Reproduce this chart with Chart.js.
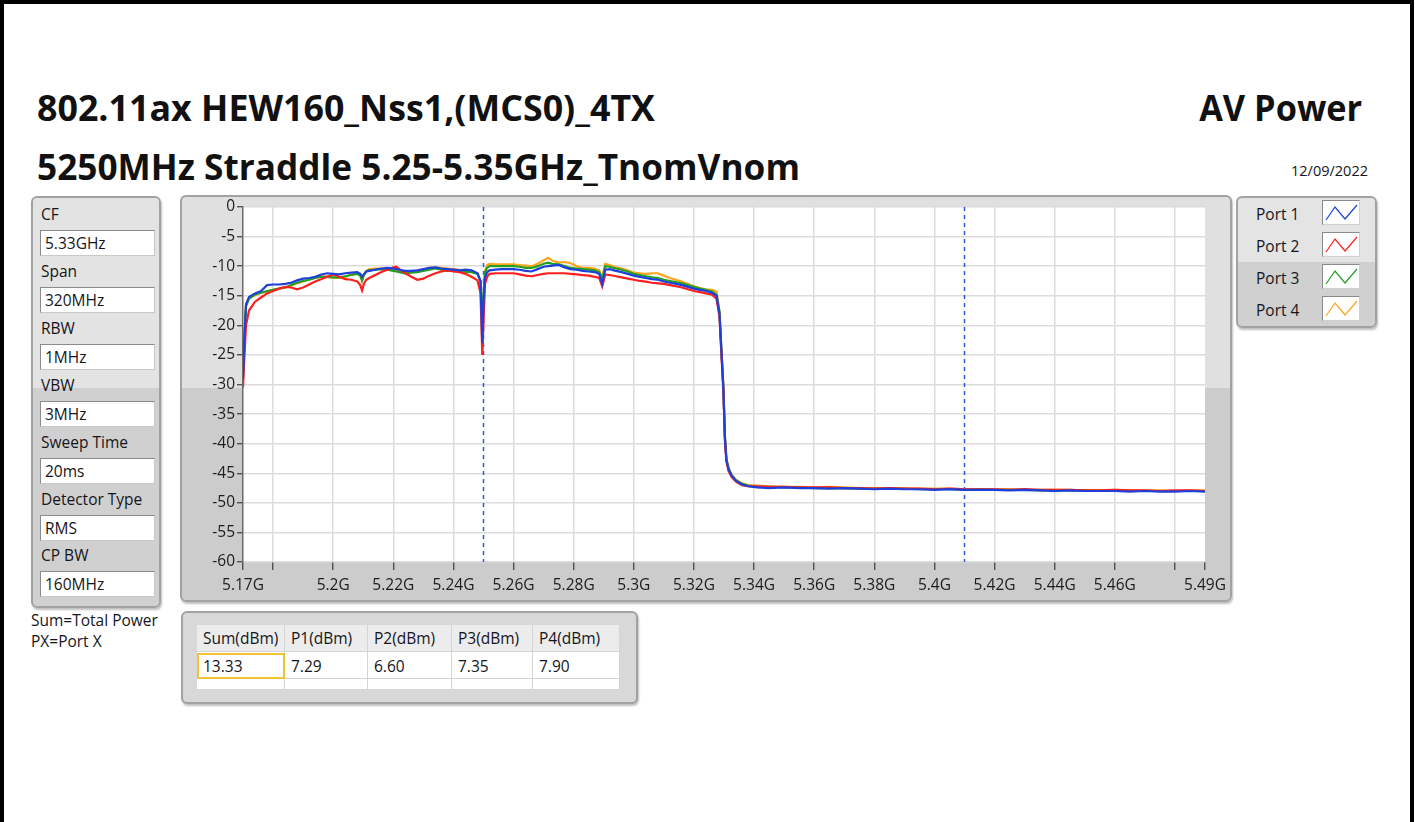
<!DOCTYPE html>
<html>
<head>
<meta charset="utf-8">
<script src="https://cdn.jsdelivr.net/npm/chart.js@4.4.1/dist/chart.umd.min.js"></script>
<style>
  body { margin: 0; background: #fff; font-family: "Open Sans", sans-serif; color: #15151c; }
  .abs { position: absolute; white-space: nowrap; }
  #frame { position: absolute; left: 0; top: 0; width: 1414px; height: 840px; border: 4px solid #000; box-sizing: border-box; }
  .title { font-weight: 700; font-size: 35px; line-height: 35px; color: #111; transform-origin: left top; }
  .small { font-size: 15.5px; line-height: 16px; }
  .panel { position: absolute; box-sizing: border-box; border: 2px solid #a2a2a2; border-radius: 6px;
           box-shadow: 1px 2px 2px rgba(0,0,0,0.25); }
  .field { position: absolute; left: 40px; width: 115px; height: 26px; box-sizing: border-box; background: #fff;
           border: 1px solid #8a8a8a; border-right-color: #c8c8c8; border-bottom-color: #c8c8c8;
           font-size: 15.5px; line-height: 24px; padding-left: 4px; }
  .swatch { position: absolute; left: 1322px; width: 38px; height: 25px; box-sizing: border-box; background: #fff;
            border: 1px solid #8a8a8a; border-right-color: #d0d0d0; border-bottom-color: #d0d0d0; }
  #tbl { position: absolute; left: 197px; top: 625px; width: 423px; height: 64px; background: #fff; overflow: hidden; }
  .cell { position: absolute; box-sizing: border-box; font-size: 15.5px; line-height: 16px; padding-left: 6px;
          border-right: 1px solid #d4d4d4; border-bottom: 1px solid #d4d4d4; }
  .hdr { background: #ececec; height: 27px; top: 0; padding-top: 5px; }
  .row { background: #fff; height: 27px; top: 27px; padding-top: 6px; }
  .row2 { background: #fff; height: 12px; top: 54px; }
</style>
</head>
<body>
<div id="frame"></div>

<div class="abs title" id="t1" style="left:37px; top:90px;">802.11ax HEW160_Nss1,(MCS0)_4TX</div>
<div class="abs title" id="t2" style="left:37px; top:149px;">5250MHz Straddle 5.25-5.35GHz_TnomVnom</div>
<div class="abs title" id="t3" style="right:53px; top:90px; transform-origin:right top;">AV Power</div>
<div class="abs" style="right:47px; top:163px; font-size:14.5px; line-height:16px;">12/09/2022</div>

<!-- settings panel -->
<div class="panel" style="left:31px; top:196px; width:130px; height:412px;
     background: linear-gradient(to bottom, #e3e3e3 0, #e3e3e3 190px, #d0d0d0 190px);"></div>
<div id="settings"></div>

<div class="abs small" style="left:31px; top:612px;">Sum=Total Power</div>
<div class="abs small" style="left:31px; top:633px;">PX=Port X</div>

<!-- chart frame -->
<div class="panel" style="left:180px; top:195px; width:1052px; height:407px;
     background: linear-gradient(to bottom, #e0e0e0 0, #e0e0e0 191px, #cccccc 191px);"></div>
<div style="position:absolute; left:180px; top:195px; width:1052px; height:407px;">
  <canvas id="spectrumChart"></canvas>
</div>

<!-- legend -->
<div class="panel" style="left:1236px; top:196px; width:141px; height:132px;
     background: linear-gradient(to bottom, #e4e4e4 0, #e4e4e4 64px, #d0d0d0 64px);"></div>
<div id="legend"></div>

<!-- power table -->
<div class="panel" style="left:181px; top:611px; width:457px; height:93px; background:#d8d8d8;"></div>
<div id="tbl"></div>

<script>
// ---- chart data ----
const freqMHz = [
  5170, 5170.5, 5171, 5172, 5174, 5176, 5178, 5180, 5182, 5184,
  5186, 5188, 5190, 5192, 5194, 5196, 5198, 5200, 5202, 5204,
  5206, 5208, 5209, 5209.6, 5210.2, 5211, 5212, 5214, 5216, 5218,
  5220, 5221, 5222, 5224, 5226, 5228, 5230, 5232, 5234, 5236,
  5238, 5240, 5242, 5244, 5246, 5248, 5249, 5249.6, 5250, 5250.5,
  5251.2, 5252, 5254, 5256, 5258, 5260, 5262, 5264, 5266, 5268,
  5270, 5271.5, 5273, 5275, 5277, 5279, 5281, 5283, 5285, 5287,
  5288.5, 5289.5, 5290.5, 5292, 5294, 5296, 5298, 5300, 5302, 5304,
  5306, 5308, 5310, 5312, 5314, 5316, 5318, 5320, 5322, 5324,
  5326, 5327.5, 5328.5, 5329.2, 5329.8, 5330.3, 5330.8, 5331.5, 5332.5, 5334,
  5336, 5338,
  5341, 5345, 5350, 5355, 5360, 5365, 5370, 5375, 5380, 5385,
  5390, 5395, 5400, 5405, 5410, 5415, 5420, 5425, 5430, 5435,
  5440, 5445, 5450, 5455, 5460, 5465, 5470, 5475, 5480, 5485,
  5490
];

const port1 = [
  -29, -22, -16.5, -15.2, -14.6, -14.2, -13.2, -13.1, -13.1, -13.0,
  -12.8, -12.4, -12.1, -12.0, -11.8, -11.4, -11.2, -11.3, -11.4, -11.2,
  -11.1, -11.0, -11.3, -11.8, -11.4, -10.9, -10.8, -10.6, -10.4, -10.3,
  -10.4, -10.5, -10.6, -10.8, -10.8, -10.7, -10.5, -10.3, -10.2, -10.4,
  -10.5, -10.6, -10.7, -10.6, -10.7, -11.2, -12.5, -23, -16, -12,
  -11.0, -10.7, -10.6, -10.5, -10.5, -10.5, -10.6, -10.8, -10.9, -10.5,
  -10.1, -10.0, -9.9, -9.8, -10.2, -10.5, -10.6, -10.8, -10.9, -11.0,
  -11.3, -13.0, -10.6, -10.5, -10.8, -11.0, -11.3, -11.6, -11.8, -12.0,
  -12.2, -12.3, -12.6, -12.8, -13.0, -13.2, -13.5, -13.8, -14.0, -14.2,
  -14.5, -15.0, -18, -25, -31, -39, -42.8, -44.3, -45.4, -46.3,
  -46.9, -47.2,
  -47.4, -47.5, -47.4, -47.5, -47.5, -47.6, -47.5, -47.6, -47.7, -47.6,
  -47.7, -47.7, -47.8, -47.7, -47.8, -47.8, -47.8, -47.9, -47.8, -47.9,
  -48.0, -47.9, -48.0, -48.0, -48.0, -48.1, -48.0, -48.1, -48.1, -48.0,
  -48.1
];

const port2 = [
  -30.5, -25, -20, -17.5, -16.0, -15.3, -14.6, -14.2, -13.8, -13.5,
  -13.6, -13.9, -13.6, -13.1, -12.6, -12.2, -11.8, -11.4, -11.8, -12.2,
  -12.3, -12.6, -13.2, -14.1, -13.0, -12.3, -12.0, -11.5, -11.0, -10.6,
  -10.2, -10.1, -10.5, -11.2, -11.8, -12.3, -12.1, -11.6, -11.2, -10.9,
  -10.7, -10.9, -11.0, -11.3, -11.8, -12.4, -14.5, -25, -19.5, -13,
  -11.8, -11.3, -11.2, -11.2, -11.2, -11.2, -11.4, -11.6, -11.7, -11.5,
  -11.3, -11.2, -11.2, -11.2, -11.2, -11.3, -11.4, -11.5, -11.6, -11.8,
  -12.0, -13.4, -11.4, -11.5, -11.7, -11.9, -12.1, -12.3, -12.5, -12.6,
  -12.8, -12.9, -13.0, -13.2, -13.4, -13.6, -13.9, -14.2, -14.4, -14.6,
  -14.8, -15.5, -18.5, -25.5, -31, -39.5, -43, -44.6, -45.6, -46.4,
  -47.0, -47.2,
  -47.2, -47.3, -47.3, -47.4, -47.4, -47.4, -47.5, -47.5, -47.6, -47.5,
  -47.6, -47.6, -47.7, -47.6, -47.7, -47.7, -47.7, -47.8, -47.7, -47.8,
  -47.8, -47.8, -47.9, -47.9, -47.8, -47.9, -47.9, -48.0, -47.9, -47.9,
  -48.0
];

const port3 = [
  -28, -21, -16.8, -15.5, -14.8, -14.5, -14.2, -14.0, -13.8, -13.6,
  -13.2, -12.8, -12.5, -12.3, -12.0, -11.8, -11.8, -11.9, -11.9, -11.7,
  -11.5, -11.3, -11.6, -12.4, -11.5, -10.9, -10.7, -10.6, -10.5, -10.6,
  -10.8, -10.9, -11.0, -11.2, -11.1, -11.0, -10.8, -10.6, -10.4, -10.6,
  -10.8, -10.8, -10.9, -11.0, -11.0, -11.3, -12.5, -19, -15, -11,
  -10.3, -10.0, -10.0, -10.0, -10.0, -10.0, -10.1, -10.3, -10.3, -10.0,
  -9.6, -9.4, -9.6, -9.7, -10.0, -10.3, -10.4, -10.5, -10.6, -10.7,
  -11.0, -12.2, -10.0, -10.1, -10.4, -10.6, -10.9, -11.3, -11.5, -11.7,
  -11.9, -12.0, -12.3, -12.5, -12.7, -12.9, -13.2, -13.5, -13.8, -14.0,
  -14.3, -14.8, -17.8, -24.8, -30.5, -38.8, -42.6, -44.2, -45.3, -46.2,
  -46.8, -47.1,
  -47.3, -47.3, -47.4, -47.4, -47.5, -47.5, -47.5, -47.6, -47.6, -47.6,
  -47.6, -47.7, -47.7, -47.7, -47.8, -47.7, -47.8, -47.8, -47.8, -47.9,
  -47.9, -47.9, -47.9, -48.0, -47.9, -48.0, -48.0, -48.0, -48.0, -48.0,
  -48.0
];

const port4 = [
  -27.5, -21, -16.5, -15.4, -14.9, -14.5, -14.3, -14.0, -13.8, -13.6,
  -13.3, -12.9, -12.6, -12.2, -12.0, -11.7, -11.8, -12.0, -12.0, -11.8,
  -11.4, -11.2, -11.6, -12.5, -11.4, -10.8, -10.5, -10.4, -10.4, -10.5,
  -10.7, -10.8, -10.9, -11.0, -10.9, -10.8, -10.6, -10.3, -10.2, -10.3,
  -10.4, -10.5, -10.6, -10.8, -10.9, -11.2, -12.6, -19.5, -15.5, -10.8,
  -9.8, -9.6, -9.7, -9.7, -9.7, -9.7, -9.8, -9.9, -10.0, -9.6,
  -9.0, -8.6, -9.1, -9.4, -9.3, -9.5, -10.0, -10.3, -10.3, -10.4,
  -10.7, -12.0, -9.6, -9.8, -10.2, -10.4, -10.7, -11.1, -11.2, -11.3,
  -11.2, -11.2, -11.6, -12.0, -12.3, -12.6, -13.0, -13.4, -13.7, -13.9,
  -14.0, -14.3, -17.5, -24.5, -30.2, -38.5, -42.5, -44.0, -45.2, -46.1,
  -46.7, -47.0,
  -47.1, -47.2, -47.3, -47.3, -47.4, -47.3, -47.4, -47.5, -47.5, -47.5,
  -47.6, -47.6, -47.6, -47.6, -47.7, -47.7, -47.7, -47.7, -47.8, -47.8,
  -47.8, -47.8, -47.9, -47.9, -47.8, -47.9, -47.9, -47.9, -48.0, -47.9,
  -47.9
];

const portNames = ['Port 1', 'Port 2', 'Port 3', 'Port 4'];
const portColors = ['#1d40dc', '#ff1f1f', '#21a021', '#ffa41f'];

// channel power bandwidth edges (CF 5.33G +/- 80 MHz)
const cpEdgesMHz = [5250, 5410];

const xTickValues = [5170, 5180, 5200, 5220, 5240, 5260, 5280, 5300, 5320, 5340,
                     5360, 5380, 5400, 5420, 5440, 5460, 5480, 5490];
const xUnlabeled = [5180, 5480];
const yMin = -60, yMax = 0, yStep = 5;

const settingLabels = ['CF', 'Span', 'RBW', 'VBW', 'Sweep Time', 'Detector Type', 'CP BW'];
const settingValues = ['5.33GHz', '320MHz', '1MHz', '3MHz', '20ms', 'RMS', '160MHz'];

const tableHeaders = ['Sum(dBm)', 'P1(dBm)', 'P2(dBm)', 'P3(dBm)', 'P4(dBm)'];
const tableValues = ['13.33', '7.29', '6.60', '7.35', '7.90'];

// ---- side panels ----
const settings = document.getElementById('settings');
settingLabels.forEach((lab, i) => {
    const top = 206 + i * 56.9;
    settings.insertAdjacentHTML('beforeend',
        `<div class="abs small" style="left:41px; top:${top}px;">${lab}</div>` +
        `<div class="field" style="top:${top + 24}px;">${settingValues[i]}</div>`);
});

const legend = document.getElementById('legend');
portNames.forEach((name, i) => {
    const top = 200 + i * 32;
    legend.insertAdjacentHTML('beforeend',
        `<div class="abs small" style="left:1256px; top:${top + 6}px;">${name}</div>` +
        `<div class="swatch" style="top:${top}px;"><svg width="36" height="23">` +
        `<polyline points="3,19 12,6 22,18 34,4" fill="none" stroke="${portColors[i]}" stroke-width="1.2"/></svg></div>`);
});

const colX = [0, 88, 171, 255, 336, 423];
const tbl = document.getElementById('tbl');
tableHeaders.forEach((h, i) => {
    const w = colX[i + 1] - colX[i];
    tbl.insertAdjacentHTML('beforeend',
        `<div class="cell hdr" style="left:${colX[i]}px; width:${w}px;">${h}</div>` +
        `<div class="cell row" style="left:${colX[i]}px; width:${w}px;">${tableValues[i]}</div>` +
        `<div class="cell row2" style="left:${colX[i]}px; width:${w}px;"></div>`);
});
tbl.insertAdjacentHTML('beforeend',
    '<div style="position:absolute; left:0; top:28px; width:88px; height:26px; box-sizing:border-box; border:2px solid #f1c232;"></div>');

// ---- chart ----
Chart.defaults.font.family = '"Open Sans", sans-serif';
Chart.defaults.font.size = 15.5;
Chart.defaults.color = '#1c1c22';

const plotBackground = {
    id: 'plotBackground',
    beforeDraw(chart) {
        const { ctx, chartArea: a } = chart;
        ctx.save();
        ctx.fillStyle = '#ffffff';
        ctx.fillRect(a.left, a.top, a.right - a.left, a.bottom - a.top);
        ctx.restore();
    }
};

const traceSets = [port1, port2, port3, port4].map((vals, i) => ({
    label: portNames[i],
    data: freqMHz.map((f, j) => ({ x: f, y: vals[j] })),
    borderColor: portColors[i],
    borderWidth: 2.2,
    pointRadius: 0,
    tension: 0
}));

const edgeSets = cpEdgesMHz.map(f => ({
    label: 'CP edge',
    data: [{ x: f, y: yMax }, { x: f, y: yMin }],
    borderColor: '#3355dd',
    borderWidth: 1.5,
    borderDash: [4, 4],
    pointRadius: 0
}));

new Chart(document.getElementById('spectrumChart'), {
    type: 'line',
    data: { datasets: [...traceSets, ...edgeSets] },
    plugins: [plotBackground],
    options: {
        responsive: true,
        maintainAspectRatio: false,
        animation: false,
        layout: { padding: { top: 12, right: 27, bottom: 0, left: 0 } },
        plugins: { legend: { display: false }, tooltip: { enabled: false } },
        scales: {
            x: {
                type: 'linear',
                min: 5170,
                max: 5490,
                afterBuildTicks: scale => { scale.ticks = xTickValues.map(v => ({ value: v })); },
                afterFit: scale => { scale.height = 40; },
                ticks: {
                    autoSkip: false,
                    maxRotation: 0,
                    padding: 6,
                    callback: v => xUnlabeled.includes(v) ? '' : parseFloat((v / 1000).toFixed(3)) + 'G'
                },
                grid: {
                    color: c => (c.tick && (c.tick.value === 5170 || c.tick.value === 5490)) ? 'rgba(0,0,0,0)' : '#dcdcdc',
                    lineWidth: 1.5,
                    tickColor: '#3a3a3a',
                    tickLength: 8,
                    tickWidth: 1.2
                },
                border: { display: false }
            },
            y: {
                min: yMin,
                max: yMax,
                afterFit: scale => { scale.width = 63; },
                ticks: { stepSize: yStep, padding: 2 },
                grid: {
                    color: '#dcdcdc',
                    lineWidth: 1.5,
                    tickColor: '#3a3a3a',
                    tickLength: 6,
                    tickWidth: 1.2
                },
                border: { color: '#6a6a6a', width: 1.5 }
            }
        }
    }
});

// stretch the big headings to the width they take in the original panel
function fitWidth(id, target) {
    const el = document.getElementById(id);
    const w = el.getBoundingClientRect().width;
    el.style.transform = 'scaleX(' + (target / w).toFixed(4) + ')';
}
document.fonts.ready.then(() => {
    fitWidth('t1', 618);
    fitWidth('t2', 763);
    fitWidth('t3', 163);
});
</script>
</body>
</html>
